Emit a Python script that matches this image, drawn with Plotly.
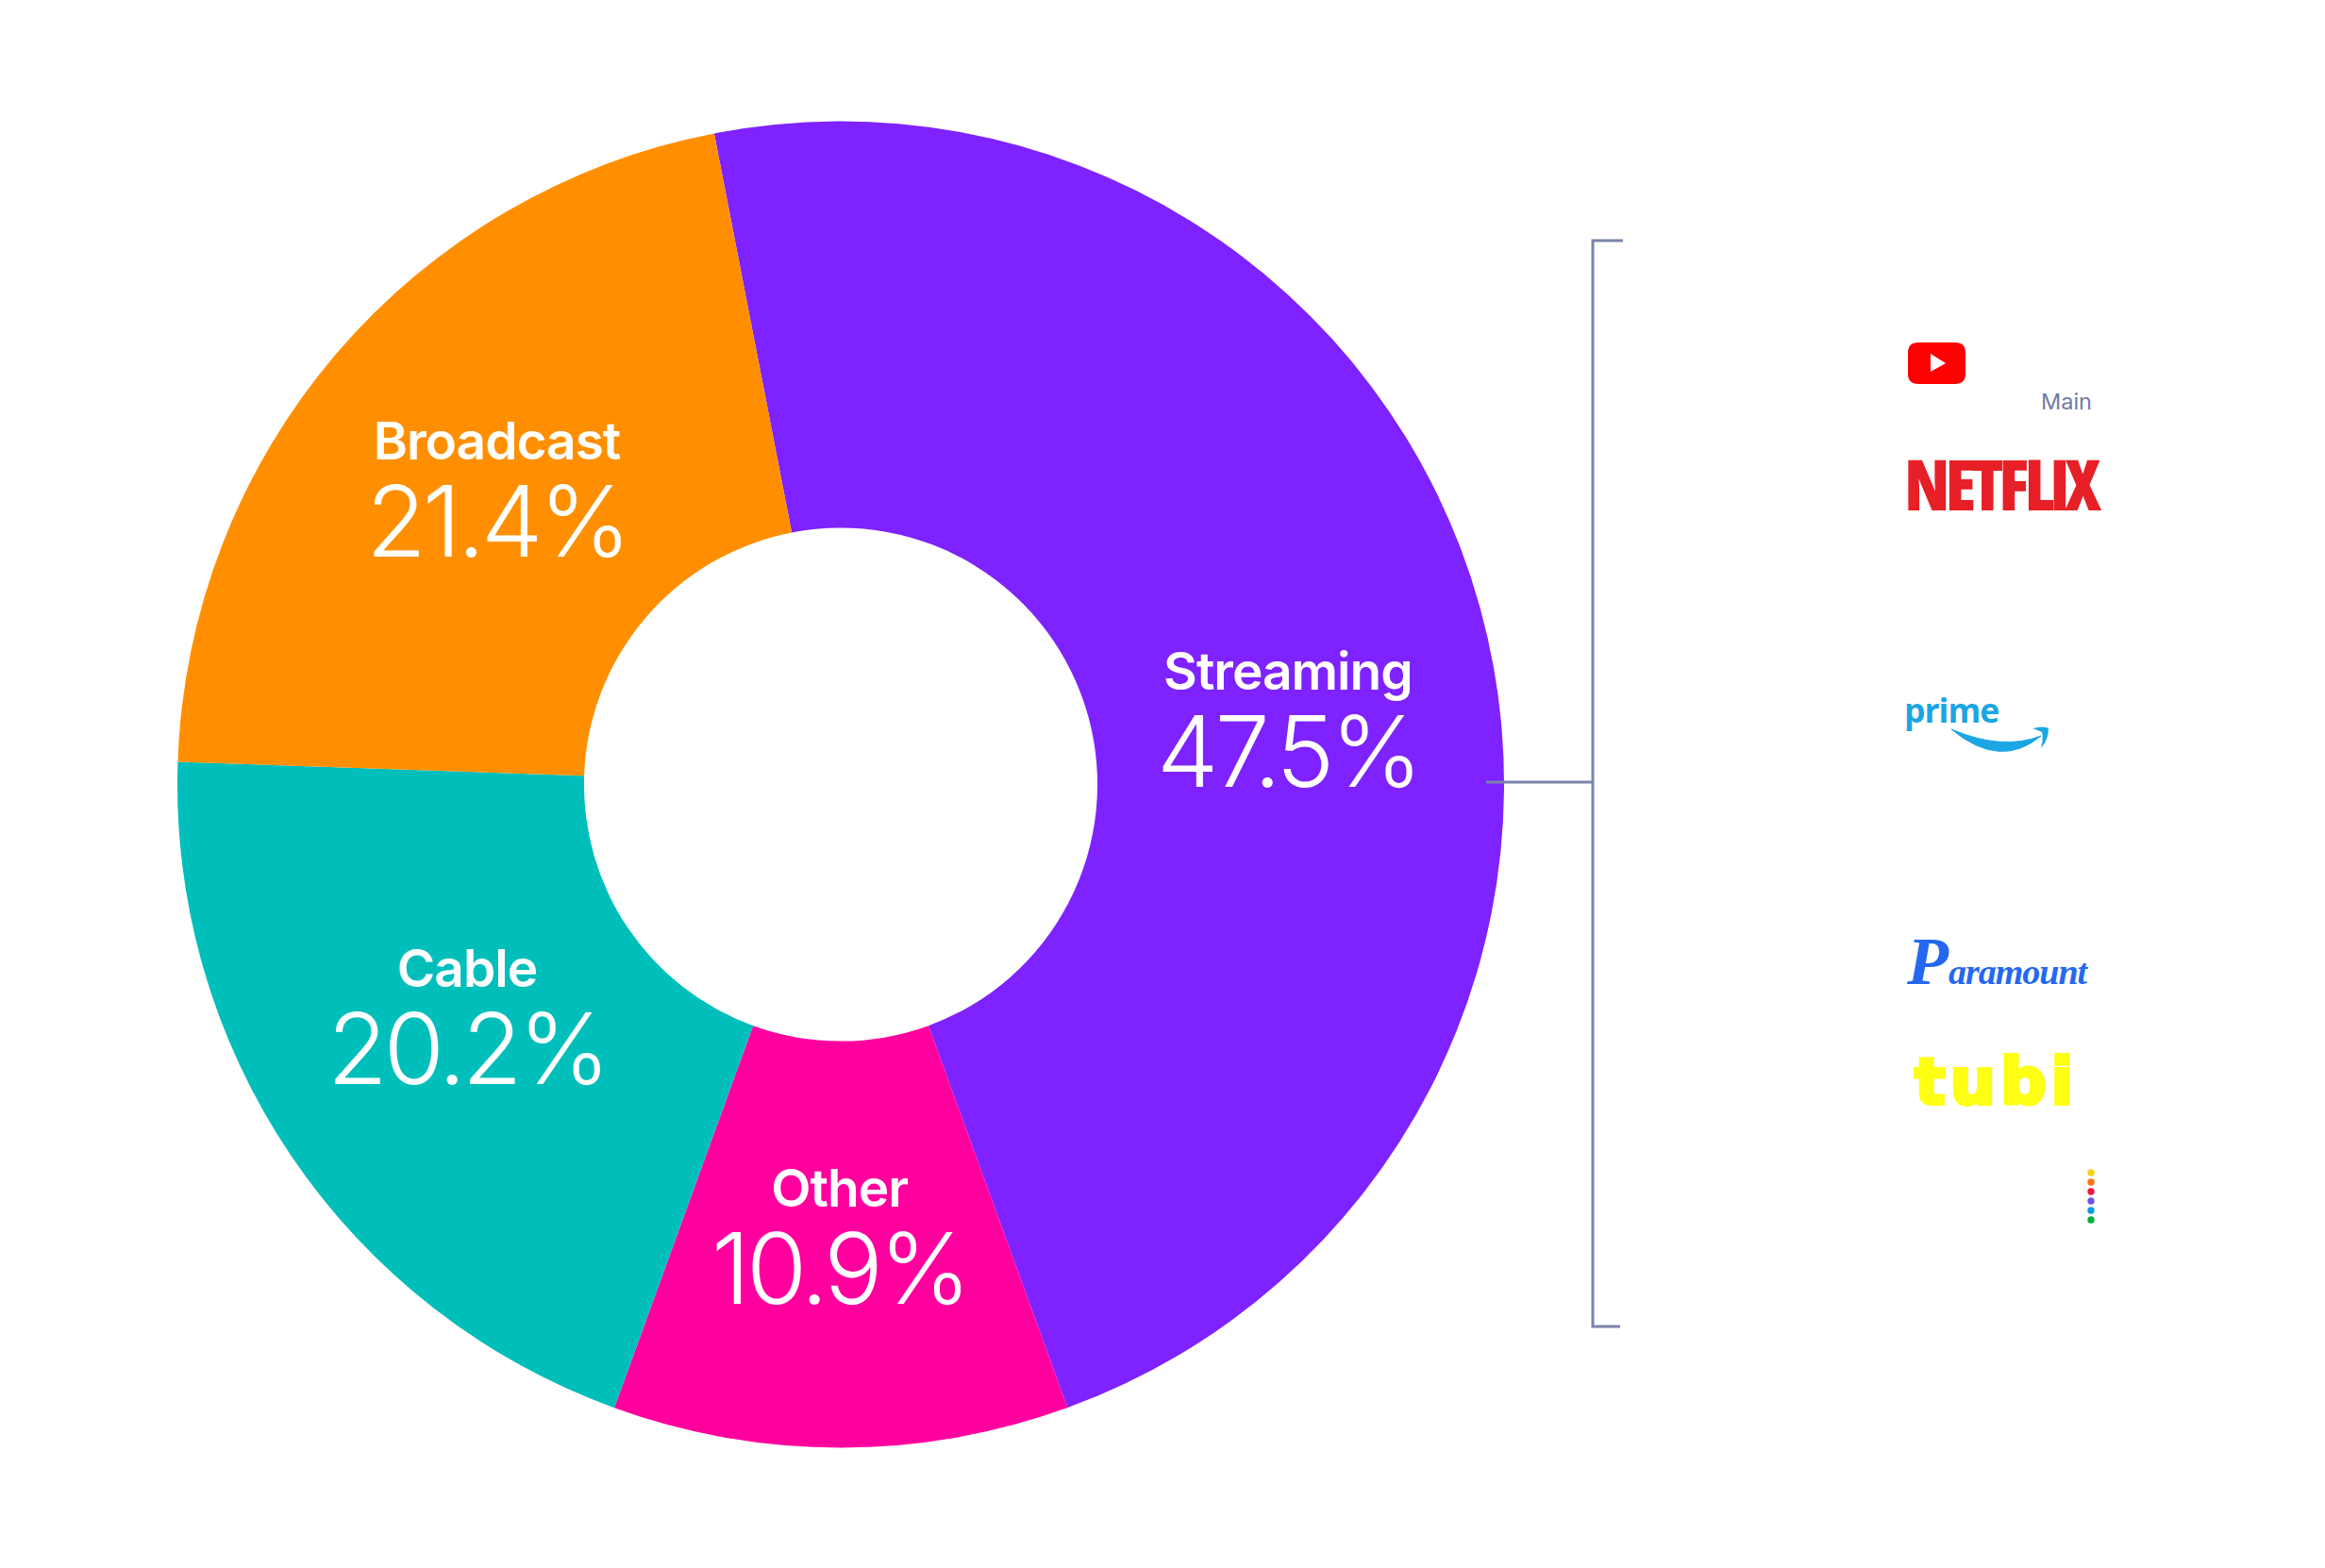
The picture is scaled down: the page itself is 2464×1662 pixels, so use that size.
import plotly.graph_objects as go

WIDTH = 2464
HEIGHT = 1662

# share of viewing as printed on the chart
categories = ['Streaming', 'Other', 'Cable', 'Broadcast']
shares = [47.5, 10.9, 20.2, 21.4]
# the wedges in the picture are not quite the printed numbers (Other bigger, Cable smaller)
wedge_sizes = [47.5, 11.1, 20.0, 21.4]
slice_colors = ['#7E22FF', '#FF009F', '#00BFBB', '#FF8F00']

peacock_colors = ['#FCCC12', '#FF7112', '#EF1541', '#6E55DC', '#069DE0', '#05AC3F']

BRACKET = '#7B84AB'
CENTER_X, CENTER_Y, RADIUS = 891, 831.5, 703
# label centres in page pixels
LABEL_POS = {
    'Streaming': (1365, 768),
    'Broadcast': (526, 524),
    'Cable': (495, 1083),
    'Other': (889, 1316),
}

fig = go.Figure()
fig.add_trace(go.Pie(
    labels=categories,
    values=wedge_sizes,
    hole=0.387,
    rotation=-11,
    direction='clockwise',
    sort=False,
    textinfo='none',
    hoverinfo='label',
    showlegend=False,
    marker=dict(colors=slice_colors, line=dict(width=0)),
    domain=dict(
        x=[(CENTER_X - RADIUS) / WIDTH, (CENTER_X + RADIUS) / WIDTH],
        y=[(HEIGHT - CENTER_Y - RADIUS) / HEIGHT, (HEIGHT - CENTER_Y + RADIUS) / HEIGHT],
    ),
))


def note(x, y, text, size, color, family='Inter', weight=400, xanchor='center', yanchor='middle', **font):
    fig.add_annotation(
        x=x, y=y, xref='x', yref='y', text=text, showarrow=False,
        xanchor=xanchor, yanchor=yanchor,
        font=dict(family=family, size=size, color=color, weight=weight, **font),
        borderpad=0,
    )


for name, share in zip(categories, shares):
    x, y = LABEL_POS[name]
    note(x, y,
         f'<span style="font-size:55px;font-weight:600;letter-spacing:-1px">{name}</span><br>'
         f'<span style="font-size:104px;font-weight:300;letter-spacing:-4px">{share}%</span>',
         79, '#FFFFFF')

# bracket
bracket_line = dict(color=BRACKET, width=3)
fig.add_shape(type='path', path='M 1720 255 L 1688 255 L 1688 1406 L 1717 1406', line=bracket_line)
fig.add_shape(type='line', x0=1575, x1=1688, y0=829, y1=829, line=bracket_line)

# youtube
fig.add_shape(type='path',
              path='M 2033 363 L 2072 363 Q 2083 363 2083 374 L 2083 396 Q 2083 407 2072 407 '
                   'L 2033 407 Q 2022 407 2022 396 L 2022 374 Q 2022 363 2033 363 Z',
              fillcolor='#FF0000', line=dict(width=0))
fig.add_shape(type='path', path='M 2046 375 L 2062 385 L 2046 394 Z', fillcolor='#FFFFFF', line=dict(width=0))
note(2218, 441, 'Main', 23.5, '#6F7AA3', xanchor='right', yanchor='bottom')

# netflix
note(2017, 512, '<span style="font-stretch:75%;letter-spacing:-5px">NETFLIX</span>', 74, '#E71F26',
     family='Open Sans', weight=800, xanchor='left')

# prime
note(2017, 752, '<span style="letter-spacing:-1px">prime</span>', 35.5, '#1BA5E3',
     family='Open Sans', weight=700, xanchor='left')
fig.add_shape(type='path',
              path='M 2068 773 Q 2120 816 2163 780 Q 2122 796 2068 773 Z',
              fillcolor='#1BA5E3', line=dict(color='#1BA5E3', width=1))
fig.add_shape(type='path',
              path='M 2154 772 Q 2166 769 2171 772 Q 2171 784 2163 793 Q 2166 782 2164 776 Q 2160 774 2154 772 Z',
              fillcolor='#1BA5E3', line=dict(width=0))

# paramount
note(2019, 1019, '<span style="font-size:72px">P</span><span style="letter-spacing:-1px">aramount</span>', 38, '#2468F0',
     family='Liberation Serif', weight=700, xanchor='left', style='italic')

# tubi
note(2028, 1146, '<span style="letter-spacing:5px;stroke:#FFFF14;stroke-width:4px">tubi</span>', 68, '#FFFF14',
     family='DejaVu Sans', weight=700, xanchor='left')

# peacock dots
for i, color in enumerate(peacock_colors):
    cy = 1243 + i * 10
    fig.add_shape(type='circle', x0=2212.3, x1=2219.7, y0=cy - 3.7, y1=cy + 3.7,
                  fillcolor=color, line=dict(width=0))

fig.update_layout(
    width=WIDTH,
    height=HEIGHT,
    margin=dict(l=0, r=0, t=0, b=0),
    paper_bgcolor='#FFFFFF',
    plot_bgcolor='#FFFFFF',
    xaxis=dict(range=[0, WIDTH], visible=False, domain=[0, 1], fixedrange=True),
    yaxis=dict(range=[HEIGHT, 0], visible=False, domain=[0, 1], fixedrange=True),
    showlegend=False,
)

fig.write_html("out.html", config={'displayModeBar': False},
               post_script="document.body.style.margin = '0';")
